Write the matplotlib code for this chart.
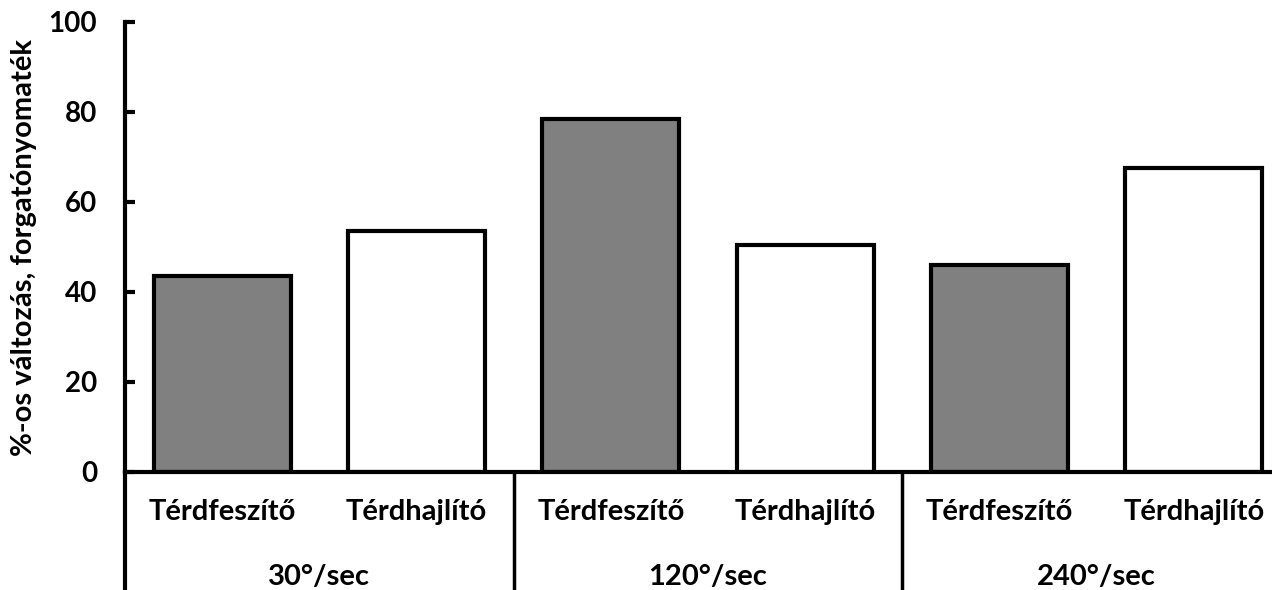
import matplotlib.pyplot as plt
import matplotlib.transforms as mtransforms

muscles = ['Térdfeszítő', 'Térdhajlító', 'Térdfeszítő', 'Térdhajlító', 'Térdfeszítő', 'Térdhajlító']
speeds = ['30°/sec', '120°/sec', '240°/sec']
values = [43.5, 53.5, 78.5, 50.5, 46, 67.5]
colors = ['#808080', 'white', '#808080', 'white', '#808080', 'white']

plt.rcParams['font.family'] = ['Lato', 'DejaVu Sans']
plt.rcParams['font.weight'] = 'bold'

fig = plt.figure(figsize=(12.72, 5.9), dpi=100)
ax = fig.add_axes([125 / 1272, 1 - 472 / 590, 1166 / 1272, 450 / 590])

x = list(range(len(values)))
ax.bar(x, values, width=0.705, color=colors, edgecolor='black', linewidth=3)

ax.set_xlim(-0.5, 5.5)
ax.set_ylim(0, 100)
ax.set_yticks([0, 20, 40, 60, 80, 100])
ax.tick_params(axis='y', direction='in', length=7, width=3, pad=20, labelsize=20)
ax.set_xticks([])
for s in ['top', 'right']:
    ax.spines[s].set_visible(False)
ax.spines['left'].set_linewidth(3)
ax.spines['bottom'].set_linewidth(3)

ax.set_ylabel('%-os változás, forgatónyomaték', fontsize=21, fontweight='bold', labelpad=8)

trans = mtransforms.blended_transform_factory(ax.transData, ax.transAxes)
for i, m in enumerate(muscles):
    ax.text(i, -0.089, m, transform=trans, ha='center', va='center', fontsize=21, fontweight='bold')
for g, sp in enumerate(speeds):
    ax.text(2 * g + 0.5, -0.233, sp, transform=trans, ha='center', va='center', fontsize=21, fontweight='bold')
for b in [-0.5, 1.5, 3.5, 5.5]:
    ax.plot([b, b], [0, -0.3], transform=trans, color='black', linewidth=2.5 if b > -0.5 else 3, clip_on=False)

fig.savefig('out.png', dpi=100)
